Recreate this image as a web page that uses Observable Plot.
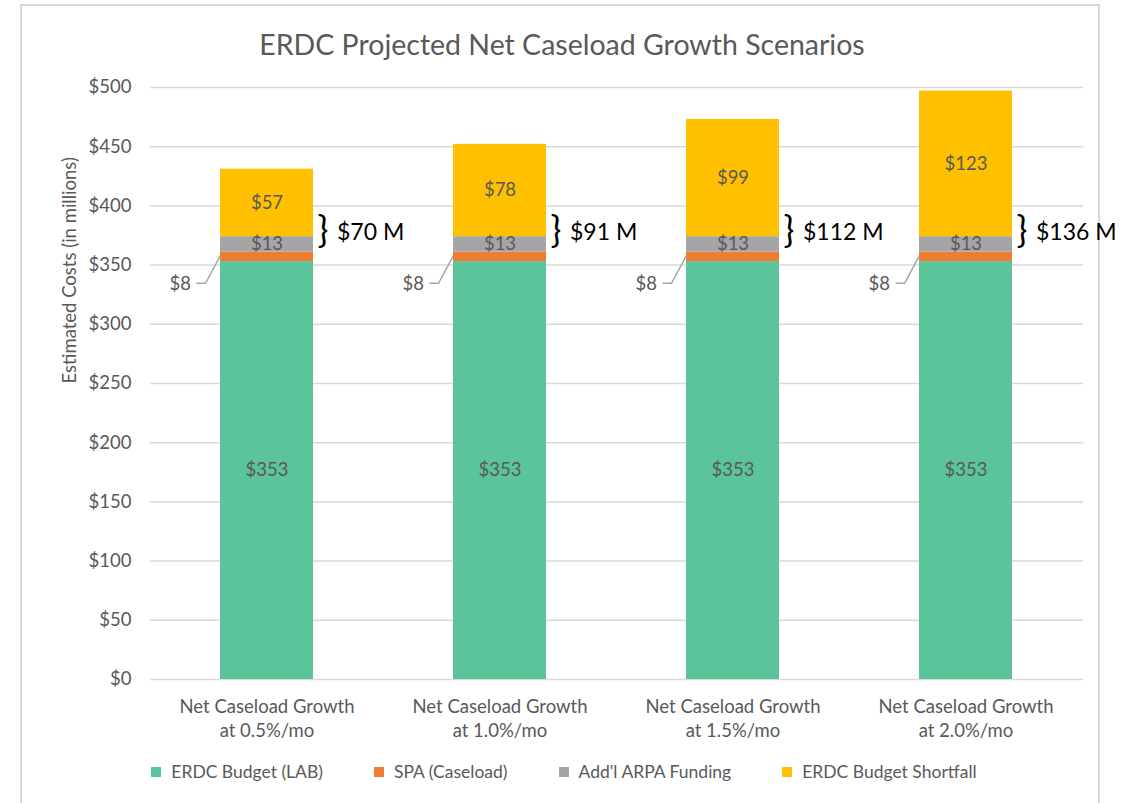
<!DOCTYPE html>
<html><head><meta charset="utf-8">
<script src="https://cdn.jsdelivr.net/npm/d3@7"></script>
<script src="https://cdn.jsdelivr.net/npm/@observablehq/plot@0.6"></script>
<style>
html,body{margin:0;padding:0;background:#fff;overflow:hidden;width:1139px;height:803px;}
body{font-family:Lato, "Open Sans", sans-serif;position:relative;}
#frame{position:absolute;left:20px;top:4px;width:1080px;height:840px;border:2px solid #d9d9d9;box-sizing:border-box;}
#title{position:absolute;top:27px;left:0;width:1124px;text-align:center;font-size:28.5px;color:#595959;line-height:34px;}
#chart{position:absolute;left:0;top:70px;}
#legend{position:absolute;top:761px;left:0;width:1128px;display:flex;justify-content:center;gap:51px;font-size:17.5px;color:#595959;line-height:22px;}
.item{display:flex;align-items:center;gap:10px;}
.sw{width:10px;height:10px;display:inline-block;}
</style></head>
<body>
<div id="frame"></div>
<div id="title">ERDC Projected Net Caseload Growth Scenarios</div>
<div id="chart"></div>
<div id="legend"></div>
<script>
const categories = [
  "Net Caseload Growth\nat 0.5%/mo",
  "Net Caseload Growth\nat 1.0%/mo",
  "Net Caseload Growth\nat 1.5%/mo",
  "Net Caseload Growth\nat 2.0%/mo"
];
const seriesNames = ["ERDC Budget (LAB)", "SPA (Caseload)", "Add'l ARPA Funding", "ERDC Budget Shortfall"];
const labBudget = [353, 353, 353, 353];
const spaCaseload = [8, 8, 8, 8];
const arpaFunding = [13, 13, 13, 13];
const shortfall = [57, 78, 99, 123];
const seriesColors = ["#5BC49A", "#ED7D31", "#A5A5A5", "#FFC000"];
const yTicks = [0, 50, 100, 150, 200, 250, 300, 350, 400, 450, 500];

const seriesValues = [labBudget, spaCaseload, arpaFunding, shortfall];
const rows = [];
categories.forEach((cat, i) => {
  seriesNames.forEach((s, j) => rows.push({cat, series: s, value: seriesValues[j][i]}));
});
const perCat = categories.map((cat, i) => ({
  cat, lab: labBudget[i], spa: spaCaseload[i], arpa: arpaFunding[i], short: shortfall[i]
}));

const gray = "#595959";

const leaders = (index, scales) => {
  const g = d3.create("svg:g");
  const x = scales.x, y = scales.y;
  let bw = x.bandwidth;
  if (typeof bw === "function") bw = bw();
  perCat.forEach(d => {
    const x0 = x(d.cat);
    const cx = x0 + bw / 2;
    const cy = y(d.lab + d.spa / 2);
    g.append("polyline")
      .attr("points", `${cx - 70},${cy + 27} ${cx - 61},${cy + 27} ${x0},${cy}`)
      .attr("fill", "none")
      .attr("stroke", "#a6a6a6")
      .attr("stroke-width", 1.5);
  });
  return g.node();
};

const chart = Plot.plot({
  width: 1139,
  height: 680,
  marginLeft: 150,
  marginRight: 56,
  marginTop: 17,
  marginBottom: 71,
  style: {fontFamily: "Lato, 'Open Sans', sans-serif", color: gray, background: "transparent", overflow: "visible"},
  x: {domain: categories, paddingInner: 0.6, paddingOuter: 0.3, label: null},
  y: {domain: [0, 500], label: null},
  color: {domain: seriesNames, range: seriesColors},
  marks: [
    Plot.gridY(yTicks, {stroke: "#d9d9d9", strokeOpacity: 1, strokeWidth: 1.5}),
    Plot.axisY(yTicks, {tickSize: 0, tickPadding: 19, tickFormat: d => "$" + d, fontSize: 18.5, label: null, fill: gray}),
    Plot.axisX({tickSize: 0, tickPadding: 16, fontSize: 18.5, lineHeight: 1.32, label: null, fill: gray}),
    Plot.text(["Estimated Costs (in millions)"], {frameAnchor: "left", rotate: -90, dx: -80, fontSize: 18.5, fill: gray}),
    Plot.barY(rows, {x: "cat", y: "value", fill: "series", order: seriesNames}),
    Plot.text(rows, Plot.stackY({
      x: "cat", y: "value", z: "series", order: seriesNames,
      text: d => d.series === seriesNames[1] ? null : "$" + d.value,
      fill: gray, fontSize: 18.5
    })),
    Plot.text(perCat, {x: "cat", y: d => d.lab + d.spa / 2, text: d => "$" + d.spa, dx: -76, dy: 27, textAnchor: "end", fontSize: 18.5, fill: gray}),
    leaders,
    Plot.text(perCat, {x: "cat", y: d => d.lab + d.spa + d.arpa, text: () => "}", dx: 56, dy: -5, fontSize: 36, fill: "#000"}),
    Plot.text(perCat, {x: "cat", y: d => d.lab + d.spa + d.arpa, text: d => `$${d.arpa + d.short} M`, dx: 70, dy: -4, textAnchor: "start", fontSize: 23, fill: "#000"})
  ]
});
document.getElementById("chart").appendChild(chart);

const legend = document.getElementById("legend");
seriesNames.forEach((s, i) => {
  const item = document.createElement("div");
  item.className = "item";
  const sw = document.createElement("span");
  sw.className = "sw";
  sw.style.background = seriesColors[i];
  const lbl = document.createElement("span");
  lbl.textContent = s;
  item.appendChild(sw);
  item.appendChild(lbl);
  legend.appendChild(item);
});
</script>
</body></html>
